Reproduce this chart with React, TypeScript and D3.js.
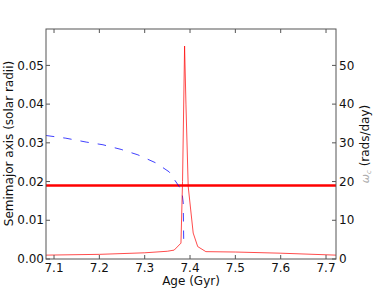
import React from "react";
import * as d3 from "d3";

// semimajor axis (solar radii) vs age (Gyr) -- blue dashed
const axisAge = [7.082, 7.126, 7.171, 7.208, 7.248, 7.285, 7.325, 7.354, 7.376, 7.382, 7.385, 7.386];
const axisVal = [0.0319, 0.0312, 0.0302, 0.0295, 0.0283, 0.0269, 0.0248, 0.0225, 0.0187, 0.0175, 0.0145, 0.0052];

// omega_c (rads/day) vs age -- thin red
const omegaAge = [7.082, 7.2, 7.3, 7.35, 7.365, 7.38, 7.3835, 7.388, 7.391, 7.396, 7.407, 7.417, 7.435, 7.5, 7.6, 7.722];
const omegaVal = [1.0, 1.2, 1.6, 2.0, 2.3, 4.1, 20, 55, 40, 18.7, 6.7, 3.2, 1.9, 1.8, 1.5, 1.0];

// reference level (left axis)
const refLevel = 0.019;

const xTicks = [7.1, 7.2, 7.3, 7.4, 7.5, 7.6, 7.7];
const yLeftTicks = [0, 0.01, 0.02, 0.03, 0.04, 0.05];
const yRightTicks = [0, 10, 20, 30, 40, 50];

const W = 374;
const H = 288;
const m = { left: 46, right: 38, top: 29, bottom: 29 };
const font = "DejaVu Sans, sans-serif";

export default function App() {
  const x = d3.scaleLinear().domain([7.0823, 7.722]).range([m.left, W - m.right]);
  const yL = d3.scaleLinear().domain([0, 0.0594]).range([H - m.bottom, m.top]);
  const yR = d3.scaleLinear().domain([0, 59.4]).range([H - m.bottom, m.top]);

  const blueLine = d3
    .line<number>()
    .x((_, i) => x(axisAge[i]))
    .y((d) => yL(d))(axisVal);
  const redLine = d3
    .line<number>()
    .x((_, i) => x(omegaAge[i]))
    .y((d) => yR(d))(omegaVal);

  const x0 = m.left;
  const x1 = W - m.right;
  const y0 = H - m.bottom;
  const y1 = m.top;
  const tk = 4;
  const spine = "#555";

  return (
    <svg
      width={W}
      height={H}
      style={{ position: "absolute", left: 0, top: 0, background: "#fff" }}
      fontFamily={font}
    >
      <defs>
        <clipPath id="plot">
          <rect x={x0} y={y1} width={x1 - x0} height={y0 - y1} />
        </clipPath>
      </defs>

      <g clipPath="url(#plot)">
        <line x1={x0} x2={x1} y1={yL(refLevel)} y2={yL(refLevel)} stroke="#ff0000" strokeWidth={2.5} />
        <path d={blueLine || ""} fill="none" stroke="#0000ff" strokeOpacity={0.75} strokeWidth={1} strokeDasharray="8.5,9" />
        <path d={redLine || ""} fill="none" stroke="#ff0000" strokeOpacity={0.7} strokeWidth={1} strokeLinejoin="round" />
      </g>

      {/* frame */}
      <rect x={x0} y={y1} width={x1 - x0} height={y0 - y1} fill="none" stroke={spine} strokeWidth={1} />

      {/* x ticks (bottom + top) */}
      {xTicks.map((t) => (
        <g key={"x" + t}>
          <line x1={x(t)} x2={x(t)} y1={y0} y2={y0 - tk} stroke={spine} />
          <line x1={x(t)} x2={x(t)} y1={y1} y2={y1 + tk} stroke={spine} />
          <text x={x(t)} y={y0 + 12.5} fontSize={12} textAnchor="middle" fill="#111">
            {t.toFixed(1)}
          </text>
        </g>
      ))}

      {/* left ticks */}
      {yLeftTicks.map((t) => (
        <g key={"l" + t}>
          <line x1={x0} x2={x0 + tk} y1={yL(t)} y2={yL(t)} stroke={spine} />
          <text x={x0 - 2} y={yL(t)} dy="0.35em" fontSize={12} textAnchor="end" fill="#111">
            {t.toFixed(2)}
          </text>
        </g>
      ))}

      {/* right ticks */}
      {yRightTicks.map((t) => (
        <g key={"r" + t}>
          <line x1={x1} x2={x1 - tk} y1={yR(t)} y2={yR(t)} stroke={spine} />
          <text x={x1 + 3} y={yR(t)} dy="0.35em" fontSize={12} textAnchor="start" fill="#111">
            {t}
          </text>
        </g>
      ))}

      <text x={(x0 + x1) / 2} y={285} fontSize={12} textAnchor="middle" fill="#111">
        Age (Gyr)
      </text>

      <text
        transform={`translate(13,${(y0 + y1) / 2 - 0.5}) rotate(-90)`}
        fontSize={12}
        textAnchor="middle"
        fill="#111"
      >
        Semimajor axis (solar radii)
      </text>

      <text
        transform={`translate(369,${(y0 + y1) / 2}) rotate(-90)`}
        fontSize={12}
        textAnchor="middle"
        fill="#111"
      >
        <tspan fill="#aaa" fontSize={11} fontStyle="italic">ω</tspan>
        <tspan fill="#aaa" fontSize={7} dy={2} fontStyle="italic">c</tspan>
        <tspan dy={-2}>{"  (rads/day)"}</tspan>
      </text>
    </svg>
  );
}
